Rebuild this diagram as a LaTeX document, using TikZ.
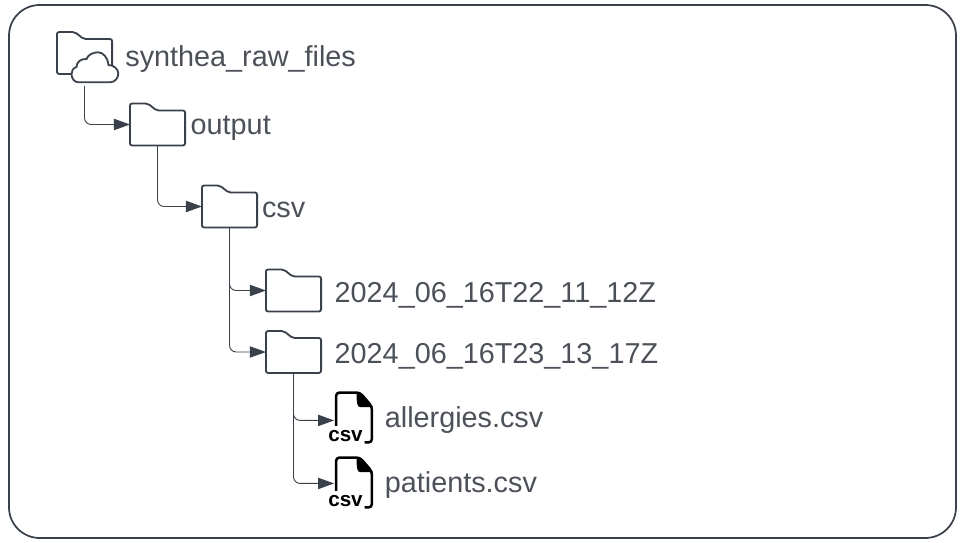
\documentclass[tikz,border=0pt]{standalone}
\usepackage{fontspec}
\setmainfont{Liberation Sans}
\usetikzlibrary{positioning,arrows.meta}
\definecolor{inkline}{HTML}{3A414A}
\definecolor{inktext}{HTML}{4C5159}
\tikzset{
  folder box/.style={
    inner sep=0pt,
    minimum width=41pt,
    minimum height=31pt,
  },
  folder line/.style={
    draw=inkline,
    line width=1.35pt,
    rounded corners=1.6pt,
  },
  file box/.style={
    inner sep=0pt,
    minimum width=26.5pt,
    minimum height=37pt,
  },
  tree label/.style={
    inner sep=0pt,
    font=\fontsize{21.6}{24}\selectfont,
    text=inktext,
    text height=19pt,
    text depth=3.5pt,
  },
  file tag/.style={
    inner sep=0pt,
    font=\fontsize{15.5}{16}\selectfont\bfseries,
    text=black,
  },
  link/.style={
    draw=inkline,
    line width=0.7pt,
    rounded corners=5pt,
    -{Triangle[length=12pt,width=8.5pt]},
  },
}
\newcommand{\drawfolder}[1]{
  \draw[folder line] (#1.south west) -- (#1.north west)
    -- ([xshift=13.5pt]#1.north west) -- ([xshift=20pt,yshift=-5.2pt]#1.north west)
    -- ([yshift=-5.2pt]#1.north east) -- (#1.south east) -- cycle;
}
\newcommand{\drawfile}[1]{
  \fill[black, line join=round, draw=black, line width=1pt] ([xshift=-11pt,yshift=-0.5pt]#1.north east)
    -- ([yshift=-10.5pt]#1.north east) -- ([xshift=-8.5pt,yshift=-10.5pt]#1.north east)
    .. controls ([xshift=-10.5pt,yshift=-10.5pt]#1.north east) and ([xshift=-11pt,yshift=-8pt]#1.north east) .. cycle;
  \draw[black, line width=1.9pt, rounded corners=2.5pt]
    ([yshift=-25pt]#1.north west) -- (#1.north west) -- ([xshift=-9pt]#1.north east)
    -- ([yshift=-10.5pt]#1.north east) -- (#1.south east) -- ([xshift=-5.5pt]#1.south east);
}

\begin{document}
\begin{tikzpicture}[x=0.75pt,y=-0.75pt]
    \useasboundingbox (0,0) rectangle (961,543);
    \draw[inkline, line width=1.3pt, rounded corners=23pt] (9,5) rectangle (956,538);

    % folders
    \node [folder box] (rawfiles) at (84.5,53) {};
    \node [folder box] (output) at (157.5,124.5) {};
    \node [folder box] (csvdir) at (229.5,206.5) {};
    \node [folder box] (run1) at (293.5,290.5) {};
    \node [folder box] (run2) at (293.5,352) {};
    \foreach \n in {rawfiles,output,csvdir,run1,run2} {
        \drawfolder{\n}
    }

    % cloud on the first folder
    \node [inner sep=0pt, minimum width=35pt, minimum height=23pt] (cloud) at (94.5,67.5) {};
    \draw[folder line, fill=white, rounded corners=0pt] (78.5,82.3) -- (110,82.3)
        .. controls (115,82.3) and (118.3,78) .. (118.3,73.5)
        .. controls (118.3,68.5) and (113,65) .. (108.5,65)
        .. controls (107.5,57) and (103,52.3) .. (98,52.3)
        .. controls (92.5,52.3) and (88,55) .. (86.5,59)
        .. controls (81,58.5) and (76.5,62) .. (76.5,67)
        .. controls (73,68) and (71.5,71) .. (71.5,74)
        .. controls (71.5,78.5) and (74.5,82.3) .. (78.5,82.3) -- cycle;

    % csv files
    \node [file box] (allergies) at (354,417.5) {};
    \node [file box] (patients) at (354,482.5) {};
    \foreach \n in {allergies,patients} {
        \drawfile{\n}
    }
    \node [file tag] (tag1) at (345.5,436) {csv};
    \node [file tag] (tag2) at (345.5,501) {csv};

    % labels
    \node [tree label, right=9.75pt of rawfiles.east, anchor=west, yshift=-2.25pt] (rawtext) {synthea\_raw\_files};
    \node [tree label, right=4pt of output, anchor=west] (outtext) {output};
    \node [tree label, right=3.5pt of csvdir, anchor=west, yshift=-0.75pt] (csvtext) {csv};
    \node [tree label, right=10pt of run1, anchor=west, yshift=-1.5pt] (run1text) {2024\_06\_16T22\_11\_12Z};
    \node [tree label, right=10pt of run2, anchor=west, yshift=-1pt] (run2text) {2024\_06\_16T23\_13\_17Z};
    \node [tree label, right=9.5pt of allergies, anchor=west] (alltext) {allergies.csv};
    \node [tree label, right=9.5pt of patients, anchor=west] (pattext) {patients.csv};

    % connectors
    \draw [link] ([xshift=-7.5pt,yshift=-2pt]cloud.south) |- (output.west);
    \draw [link] (output.south) |- (csvdir.west);
    \draw [link] (csvdir.south) |- (run1.west);
    \draw [link] (csvdir.south) |- (run2.west);
    \draw [link] (run2.south) |- ([xshift=-1.5pt,yshift=-2.2pt]allergies.west);
    \draw [link] (run2.south) |- ([xshift=-1.5pt,yshift=-0.7pt]patients.west);
\end{tikzpicture}
\end{document}
